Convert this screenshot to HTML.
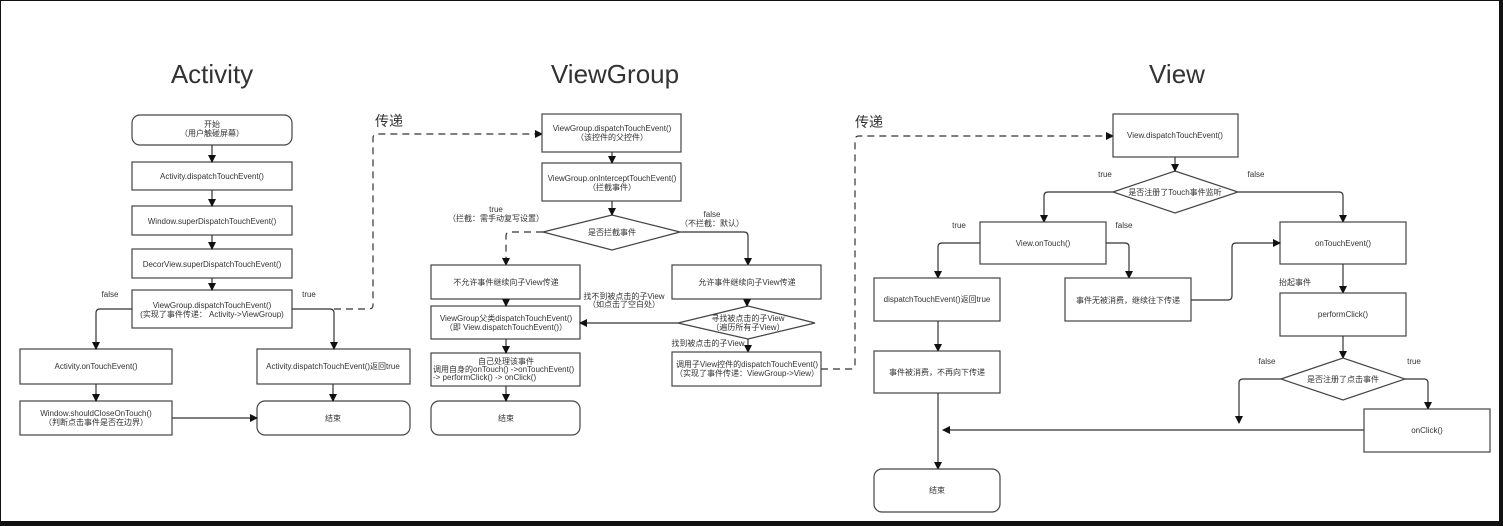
<!DOCTYPE html>
<html><head><meta charset="utf-8">
<style>
html,body{margin:0;padding:0;background:#fff;}
svg{display:block;}
text{font-family:"Liberation Sans","Noto Sans CJK SC",sans-serif;fill:#333;}
.s{font-size:8px;text-anchor:middle;}
.t{font-size:26px;text-anchor:middle;fill:#333;font-weight:normal;}
.b{fill:#fff;stroke:#444;stroke-width:1.2;}
.l{fill:none;stroke:#333;stroke-width:1.2;}
.d{fill:none;stroke:#333;stroke-width:1.2;stroke-dasharray:7,5;}
</style></head><body>
<svg width="1503" height="526" viewBox="0 0 1503 526" xmlns="http://www.w3.org/2000/svg">
<defs>
<marker id="a" markerWidth="8" markerHeight="8" refX="7" refY="4" orient="auto" markerUnits="userSpaceOnUse">
<path d="M0,0 L8,4 L0,8 z" fill="#111"/></marker>
</defs>
<rect x="0" y="0" width="1503" height="526" fill="#111"/>
<rect x="1" y="1" width="1498" height="520" fill="#fff"/>

<text class="t" x="212" y="83">Activity</text>
<text class="t" x="615" y="83">ViewGroup</text>
<text class="t" x="1177" y="83">View</text>
<text x="375" y="126" style="font-size:14px">传递</text>
<text x="855" y="127" style="font-size:14px">传递</text>

<!-- Activity -->
<rect class="b" x="132" y="115" width="160" height="30" rx="8"/>
<text class="s" x="212" y="127">开始</text><text class="s" x="212" y="136">（用户触碰屏幕）</text>
<rect class="b" x="132" y="162" width="160" height="28"/>
<text class="s" x="212" y="179">Activity.dispatchTouchEvent()</text>
<rect class="b" x="132" y="206" width="160" height="29"/>
<text class="s" x="212" y="224">Window.superDispatchTouchEvent()</text>
<rect class="b" x="132" y="249" width="160" height="29"/>
<text class="s" x="212" y="267">DecorView.superDispatchTouchEvent()</text>
<rect class="b" x="132" y="290" width="160" height="38"/>
<text class="s" x="212" y="308">ViewGroup.dispatchTouchEvent()</text><text class="s" x="212" y="317">(实现了事件传递： Activity-&gt;ViewGroup)</text>
<rect class="b" x="20" y="349" width="152" height="35"/>
<text class="s" x="96" y="369">Activity.onTouchEvent()</text>
<rect class="b" x="257" y="349" width="153" height="35"/>
<text class="s" x="333" y="369">Activity.dispatchTouchEvent()返回true</text>
<rect class="b" x="20" y="401" width="152" height="34"/>
<text class="s" x="96" y="416">Window.shouldCloseOnTouch()</text><text class="s" x="96" y="425">（判断点击事件是否在边界）</text>
<rect class="b" x="257" y="401" width="153" height="34" rx="8"/>
<text class="s" x="333" y="421">结束</text>
<text class="s" x="110" y="297">false</text><text class="s" x="309" y="297">true</text>
<line class="l" x1="212" y1="145" x2="212" y2="162" marker-end="url(#a)"/>
<line class="l" x1="212" y1="190" x2="212" y2="206" marker-end="url(#a)"/>
<line class="l" x1="212" y1="235" x2="212" y2="249" marker-end="url(#a)"/>
<line class="l" x1="212" y1="278" x2="212" y2="290" marker-end="url(#a)"/>
<path class="l" d="M132,309 H100 Q96,309 96,313 V349" marker-end="url(#a)"/>
<path class="l" d="M292,309 H330 Q334,309 334,313 V349" marker-end="url(#a)"/>
<line class="l" x1="96" y1="384" x2="96" y2="401" marker-end="url(#a)"/>
<line class="l" x1="333" y1="384" x2="333" y2="401" marker-end="url(#a)"/>
<line class="l" x1="172" y1="418" x2="257" y2="418" marker-end="url(#a)"/>
<path class="d" d="M334,309 H369 Q373,309 373,305 V138 Q373,134 377,134 H542" marker-end="url(#a)"/>

<!-- ViewGroup -->
<rect class="b" x="542" y="114" width="139" height="38"/>
<text class="s" x="612" y="131">ViewGroup.dispatchTouchEvent()</text><text class="s" x="612" y="140">（该控件的父控件）</text>
<rect class="b" x="542" y="163" width="139" height="38"/>
<text class="s" x="612" y="181">ViewGroup.onInterceptTouchEvent()</text><text class="s" x="612" y="190">（拦截事件）</text>
<polygon class="b" points="543,232 612,215 680,232 612,250"/>
<text class="s" x="612" y="235">是否拦截事件</text>
<text class="s" x="496" y="212">true</text><text class="s" x="496" y="221">（拦截：需手动复写设置）</text>
<text class="s" x="712" y="217">false</text><text class="s" x="712" y="226">（不拦截：默认）</text>
<line class="l" x1="612" y1="152" x2="612" y2="163" marker-end="url(#a)"/>
<line class="l" x1="612" y1="201" x2="612" y2="215" marker-end="url(#a)"/>
<path class="d" d="M543,232 H510 Q506,232 506,236 V265" marker-end="url(#a)"/>
<path class="l" d="M680,232 H744 Q748,232 748,236 V265" marker-end="url(#a)"/>
<rect class="b" x="431" y="265" width="149" height="34"/>
<text class="s" x="506" y="285">不允许事件继续向子View传递</text>
<rect class="b" x="672" y="265" width="149" height="34"/>
<text class="s" x="747" y="285">允许事件继续向子View传递</text>
<rect class="b" x="431" y="306" width="149" height="33"/>
<text class="s" x="506" y="321">ViewGroup父类dispatchTouchEvent()</text><text class="s" x="506" y="330">（即 View.dispatchTouchEvent()）</text>
<polygon class="b" points="678,323 748,306 815,323 748,339"/>
<text class="s" x="748" y="321">寻找被点击的子View</text><text class="s" x="748" y="330">（遍历所有子View）</text>
<text class="s" x="624" y="299">找不到被点击的子View</text><text class="s" x="624" y="307">（如点击了空白处）</text>
<line class="l" x1="678" y1="323" x2="580" y2="323" marker-end="url(#a)"/>
<line class="l" x1="506" y1="299" x2="506" y2="306" marker-end="url(#a)"/>
<line class="l" x1="747" y1="299" x2="747" y2="306" marker-end="url(#a)"/>
<rect class="b" x="431" y="353" width="149" height="33"/>
<text class="s" x="506" y="364">自己处理该事件</text>
<text x="433" y="372" style="font-size:8px">调用自身的onTouch() -&gt;onTouchEvent()</text>
<text x="433" y="380" style="font-size:8px">-&gt; performClick() -&gt; onClick()</text>
<line class="l" x1="506" y1="339" x2="506" y2="353" marker-end="url(#a)"/>
<rect class="b" x="431" y="401" width="149" height="34" rx="8"/>
<text class="s" x="506" y="421">结束</text>
<line class="l" x1="506" y1="386" x2="506" y2="401" marker-end="url(#a)"/>
<text class="s" x="708" y="346">找到被点击的子View</text>
<line class="l" x1="748" y1="339" x2="748" y2="352" marker-end="url(#a)"/>
<rect class="b" x="672" y="352" width="149" height="34"/>
<text class="s" x="747" y="367">调用子View控件的dispatchTouchEvent()</text><text class="s" x="747" y="376">（实现了事件传递：ViewGroup-&gt;View）</text>
<path class="d" d="M821,369 H851 Q855,369 855,365 V140 Q855,136 859,136 H1113" marker-end="url(#a)"/>

<!-- View -->
<rect class="b" x="1113" y="114" width="125" height="43"/>
<text class="s" x="1175" y="138">View.dispatchTouchEvent()</text>
<polygon class="b" points="1113,192 1175,171 1238,192 1175,213"/>
<text class="s" x="1175" y="195">是否注册了Touch事件监听</text>
<text class="s" x="1105" y="177">true</text><text class="s" x="1256" y="177">false</text>
<line class="l" x1="1175" y1="157" x2="1175" y2="171" marker-end="url(#a)"/>
<path class="l" d="M1113,192 H1048 Q1044,192 1044,196 V222" marker-end="url(#a)"/>
<path class="l" d="M1238,192 H1339 Q1343,192 1343,196 V222" marker-end="url(#a)"/>
<rect class="b" x="980" y="222" width="126" height="42"/>
<text class="s" x="1043" y="246">View.onTouch()</text>
<rect class="b" x="1280" y="222" width="126" height="42"/>
<text class="s" x="1343" y="246">onTouchEvent()</text>
<text class="s" x="959" y="228">true</text><text class="s" x="1124" y="228">false</text>
<path class="l" d="M980,243 H942 Q938,243 938,247 V278" marker-end="url(#a)"/>
<path class="l" d="M1106,243 H1125 Q1129,243 1129,247 V278" marker-end="url(#a)"/>
<rect class="b" x="874" y="278" width="126" height="43"/>
<text class="s" x="937" y="302">dispatchTouchEvent()返回true</text>
<rect class="b" x="1065" y="278" width="126" height="43"/>
<text class="s" x="1128" y="303">事件无被消费，继续往下传递</text>
<path class="l" d="M1191,300 H1228 Q1232,300 1232,296 V247 Q1232,243 1236,243 H1280" marker-end="url(#a)"/>
<line class="l" x1="938" y1="321" x2="938" y2="351" marker-end="url(#a)"/>
<rect class="b" x="874" y="351" width="126" height="42"/>
<text class="s" x="937" y="375">事件被消费，不再向下传递</text>
<line class="l" x1="938" y1="393" x2="938" y2="469" marker-end="url(#a)"/>
<rect class="b" x="874" y="469" width="126" height="43" rx="8"/>
<text class="s" x="937" y="493">结束</text>
<text class="s" x="1295" y="285">抬起事件</text>
<line class="l" x1="1343" y1="264" x2="1343" y2="293" marker-end="url(#a)"/>
<rect class="b" x="1280" y="293" width="126" height="43"/>
<text class="s" x="1343" y="317">performClick()</text>
<line class="l" x1="1343" y1="336" x2="1343" y2="358" marker-end="url(#a)"/>
<polygon class="b" points="1281,379 1343,358 1405,379 1343,400"/>
<text class="s" x="1343" y="382">是否注册了点击事件</text>
<text class="s" x="1267" y="364">false</text><text class="s" x="1414" y="364">true</text>
<path class="l" d="M1281,379 H1243 Q1239,379 1239,383 V423" marker-end="url(#a)"/>
<path class="l" d="M1405,379 H1424 Q1428,379 1428,383 V409" marker-end="url(#a)"/>
<rect class="b" x="1364" y="409" width="126" height="43"/>
<text class="s" x="1427" y="433">onClick()</text>
<line class="l" x1="1364" y1="430" x2="943" y2="430" marker-end="url(#a)"/>
</svg>
</body></html>
